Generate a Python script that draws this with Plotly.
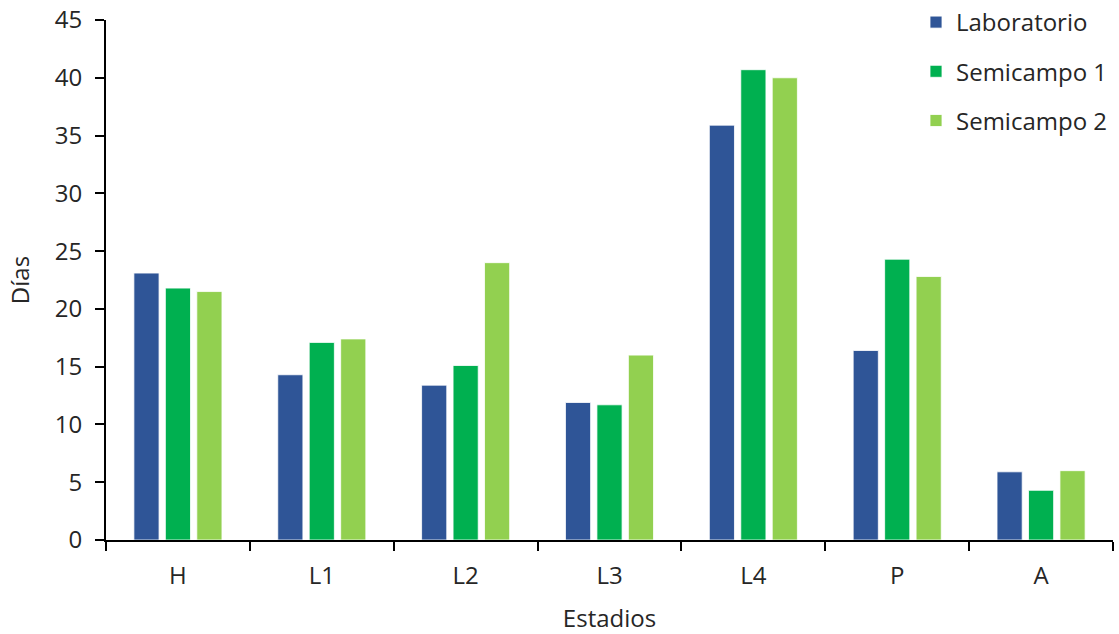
import plotly.graph_objects as go

categories = ["H", "L1", "L2", "L3", "L4", "P", "A"]
laboratorio = [23.1, 14.3, 13.4, 11.9, 35.9, 16.4, 5.9]
semicampo1 = [21.8, 17.1, 15.1, 11.7, 40.7, 24.3, 4.3]
semicampo2 = [21.5, 17.4, 24.0, 16.0, 40.0, 22.8, 6.0]
series_names = ["Laboratorio", "Semicampo 1", "Semicampo 2"]
colors = ["#2F5597", "#00B050", "#92D050"]
y_ticks = [0, 5, 10, 15, 20, 25, 30, 35, 40, 45]

FONT = "Open Sans, Noto Sans, sans-serif"
TXT = "#262626"

fig = go.Figure()
for name, vals, col in zip(series_names, [laboratorio, semicampo1, semicampo2], colors):
    fig.add_trace(go.Bar(
        x=categories, y=vals, name=name,
        marker=dict(color=col, line=dict(color="rgba(255,255,255,0.8)", width=1)),
        legendgroup=name,
    ))

fig.update_layout(
    width=1119, height=634,
    margin=dict(l=106, r=6, t=20, b=94, autoexpand=False),
    paper_bgcolor="white", plot_bgcolor="white",
    barmode="group", bargap=0.344, bargroupgap=0.2,
    font=dict(family=FONT, size=24, color=TXT),
    legend=dict(x=1.0, xanchor="right", yref="container", y=1.0, yanchor="top",
                font=dict(size=24, family=FONT, color=TXT), tracegroupgap=15,
                itemwidth=30,
                bgcolor="rgba(0,0,0,0)"),
    showlegend=True,
)
fig.update_xaxes(
    title=dict(text="Estadios", font=dict(size=24, family=FONT, color=TXT), standoff=20),
    showline=True, linecolor="black", linewidth=2,
    ticks="outside", tickson="boundaries", ticklen=9, tickcolor="black", tickwidth=2,
    tickfont=dict(size=24, family=FONT, color=TXT), ticklabelstandoff=13,
    showgrid=False,
)
fig.update_yaxes(
    title=dict(text="Días", font=dict(size=24, family=FONT, color=TXT), standoff=18),
    range=[0, 45], tickvals=y_ticks,
    showline=True, linecolor="black", linewidth=2,
    ticks="outside", ticklen=9, tickcolor="black", tickwidth=2,
    tickfont=dict(size=24, family=FONT, color=TXT), ticklabelstandoff=8,
    showgrid=False, zeroline=False,
)

fig.write_html("out.html")
